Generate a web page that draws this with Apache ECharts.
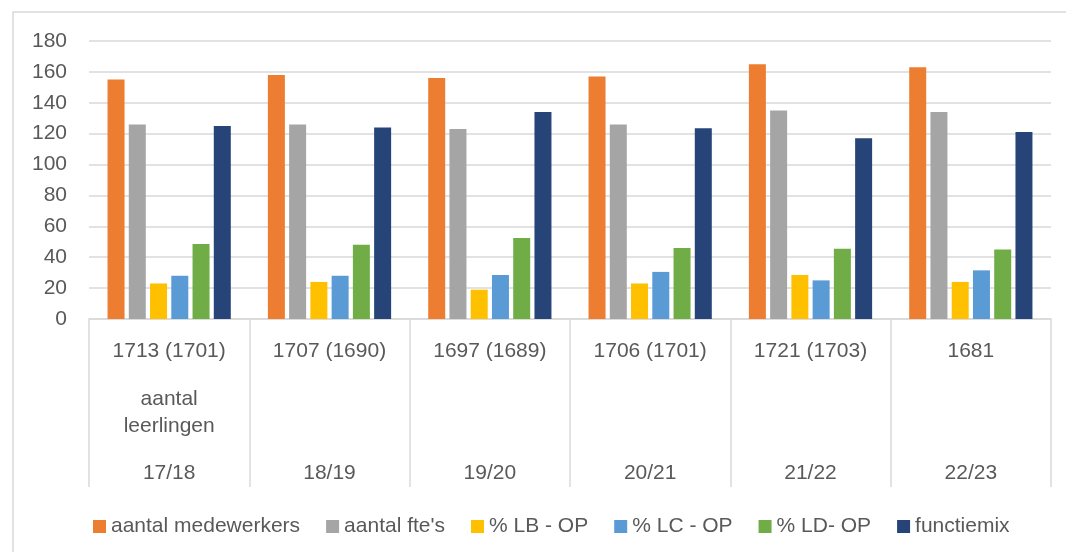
<!DOCTYPE html>
<html lang="nl">
<head>
    <meta charset="UTF-8">
    <title>Personeel</title>
    <script src="https://cdn.jsdelivr.net/npm/echarts@6/dist/echarts.min.js"></script>
    <style>
        body { margin: 0; background: #fff; }
    </style>
</head>
<body>
    <div id="main" style="width: 1066px;height:552px;"></div>
    <script type="text/javascript">
        // schooljaren en aantal leerlingen per jaar
        var jaren = ['17/18', '18/19', '19/20', '20/21', '21/22', '22/23'];
        var leerlingen = ['1713 (1701)', '1707 (1690)', '1697 (1689)', '1706 (1701)', '1721 (1703)', '1681'];
        var notitie = ['aantal\nleerlingen', '', '', '', '', ''];

        var medewerkers = [155, 158, 156, 157, 165, 163];
        var ftes = [126, 126, 123, 126, 135, 134];
        var lb = [23, 24, 19, 23, 28.5, 24];
        var lc = [28, 28, 28.5, 30.5, 25, 31.5];
        var ld = [48.5, 48, 52.5, 46, 45.5, 45];
        var functiemix = [125, 124, 134, 123.5, 117, 121];

        var yTicks = [0, 20, 40, 60, 80, 100, 120, 140, 160, 180];

        var reeksen = [
            { naam: 'aantal medewerkers', data: medewerkers, kleur: '#ED7D31' },
            { naam: "aantal fte's", data: ftes, kleur: '#A5A5A5' },
            { naam: '% LB - OP', data: lb, kleur: '#FFC000' },
            { naam: '% LC - OP', data: lc, kleur: '#5B9BD5' },
            { naam: '% LD- OP', data: ld, kleur: '#70AD47' },
            { naam: 'functiemix', data: functiemix, kleur: '#264478' }
        ];

        var font = 'Liberation Sans';
        var tekstKleur = '#595959';
        var lijnKleur = '#d9d9d9';

        var myChart = echarts.init(document.getElementById('main'));

        var option = {
            animation: false,
            textStyle: { fontFamily: font },
            graphic: [{
                type: 'rect',
                shape: { x: 13, y: 12, width: 1100, height: 600 },
                style: { fill: 'none', stroke: lijnKleur, lineWidth: 1.5 },
                silent: true
            }],
            grid: { left: 89, right: 15, top: 41, bottom: 233, outerBoundsMode: 'none', containLabel: false },
            legend: {
                left: 88,
                top: 511,
                itemWidth: 13,
                itemHeight: 13,
                itemGap: 26,
                icon: 'rect',
                textStyle: { fontFamily: font, fontSize: 21, color: tekstKleur },
                data: reeksen.map(function (r) { return r.naam; })
            },
            xAxis: [
                {
                    type: 'category',
                    position: 'bottom',
                    data: jaren,
                    axisLine: { lineStyle: { color: lijnKleur, width: 1.5 } },
                    axisTick: { show: true, interval: 0, length: 168, lineStyle: { color: lijnKleur, width: 1.5 } },
                    axisLabel: { interval: 0, margin: 142, fontSize: 21, lineHeight: 24, color: tekstKleur, fontFamily: font }
                },
                {
                    type: 'category',
                    position: 'bottom',
                    offset: 0,
                    data: jaren,
                    axisLine: { show: false },
                    axisTick: { show: false },
                    axisLabel: {
                        interval: 0, margin: 20, fontSize: 21, lineHeight: 24, color: tekstKleur, fontFamily: font,
                        formatter: function (v, i) { return leerlingen[i]; }
                    }
                },
                {
                    type: 'category',
                    position: 'bottom',
                    offset: 0,
                    data: jaren,
                    axisLine: { show: false },
                    axisTick: { show: false },
                    axisLabel: {
                        interval: 0, margin: 67, fontSize: 21, lineHeight: 27, color: tekstKleur, fontFamily: font,
                        formatter: function (v, i) { return notitie[i]; }
                    }
                }
            ],
            yAxis: {
                type: 'value',
                min: yTicks[0],
                max: yTicks[yTicks.length - 1],
                interval: 20,
                axisLine: { show: false },
                axisTick: { show: false },
                axisLabel: { fontSize: 21, color: tekstKleur, margin: 22, fontFamily: font },
                splitLine: { lineStyle: { color: lijnKleur, width: 1.5 } }
            },
            series: reeksen.map(function (r) {
                return {
                    name: r.naam,
                    type: 'bar',
                    data: r.data,
                    barWidth: 17,
                    barGap: '25%',
                    itemStyle: { color: r.kleur }
                };
            })
        };

        myChart.setOption(option);
    </script>
</body>
</html>
